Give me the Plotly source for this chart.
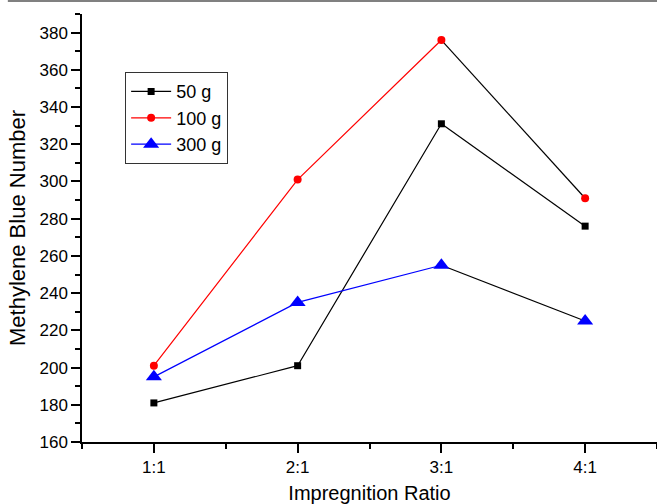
import plotly.graph_objects as go

categories = ["1:1", "2:1", "3:1", "4:1"]
series_names = ["50 g", "100 g", "300 g"]
values_50 = [181, 201, 331, 276]
values_100 = [201, 301, 376, 291]
values_300 = [195, 235, 255, 225]
colors = ["#000000", "#ff0000", "#0000ff"]
symbols = ["square", "circle", "triangle-up"]
sizes = [7, 8, 14]

x_idx = list(range(1, len(categories) + 1))
all_values = [values_50, values_100, values_300]

FONT = "Liberation Sans, Arial, sans-serif"

fig = go.Figure()
for name, vals, col, sym, sz in zip(series_names, all_values, colors, symbols, sizes):
    fig.add_trace(go.Scatter(
        x=x_idx[:-1], y=vals[:-1], name=name, mode="lines",
        line=dict(color=col, width=1.2), showlegend=False, hoverinfo="skip"))
    fig.add_trace(go.Scatter(
        x=x_idx[-2:], y=vals[-2:], mode="lines",
        line=dict(color="#000000", width=1.2), showlegend=False, hoverinfo="skip"))
    fig.add_trace(go.Scatter(
        x=x_idx, y=vals, name=name, mode="markers",
        marker=dict(symbol=sym, size=sz, color=col, line=dict(width=0)),
        showlegend=False))
    fig.add_trace(go.Scatter(
        x=[None], y=[None], name=name, mode="lines+markers",
        marker=dict(symbol=sym, size=sz, color=col),
        line=dict(color=col, width=1.2)))

tickfont = dict(family=FONT, size=17, color="#000000")

fig.update_layout(
    width=657, height=504,
    margin=dict(l=82, r=0, t=14, b=62, autoexpand=False),
    paper_bgcolor="white", plot_bgcolor="white",
    font=dict(family=FONT, color="#000000", size=17),
    showlegend=True,
    legend=dict(
        x=0.075, y=0.864, xanchor="left", yanchor="top",
        bordercolor="#333333", borderwidth=1, bgcolor="white",
        font=dict(size=18), tracegroupgap=0, itemsizing="trace",
        itemwidth=40),
    xaxis=dict(
        range=[0.5, 4.5], tickmode="array", tickvals=x_idx, ticktext=categories,
        ticks="outside", ticklen=9, tickwidth=1.5, tickcolor="#000000",
        showline=True, linecolor="#000000", linewidth=1.5, showgrid=False,
        zeroline=False, mirror=False, automargin=False,
        minor=dict(tickmode="linear", tick0=0.5, dtick=1, ticks="outside",
                   ticklen=5, tickwidth=1.5, tickcolor="#000000"),
        title=dict(text="Impregnition Ratio", font=dict(size=20), standoff=10),
        tickfont=tickfont,
    ),
    yaxis=dict(
        range=[160, 390], tickmode="linear", tick0=160, dtick=20,
        ticks="outside", ticklen=9, tickwidth=1.5, tickcolor="#000000",
        showline=True, linecolor="#000000", linewidth=1.5, showgrid=False,
        zeroline=False, mirror=False, automargin=False,
        minor=dict(tickmode="linear", tick0=160, dtick=10, ticks="outside",
                   ticklen=5, tickwidth=1.5, tickcolor="#000000"),
        title=dict(text="Methylene Blue Number", font=dict(size=22), standoff=8),
        tickfont=tickfont,
    ),
    shapes=[dict(type="rect", xref="paper", yref="paper", layer="above",
                 x0=-0.129, x1=1.0, y0=1.0 + 12.0 / 428, y1=1.0 + 14.0 / 428,
                 fillcolor="#808080", line=dict(width=0))],
)

fig.write_html("out.html", config={"displayModeBar": False},
               post_script="document.body.style.margin='0';")
